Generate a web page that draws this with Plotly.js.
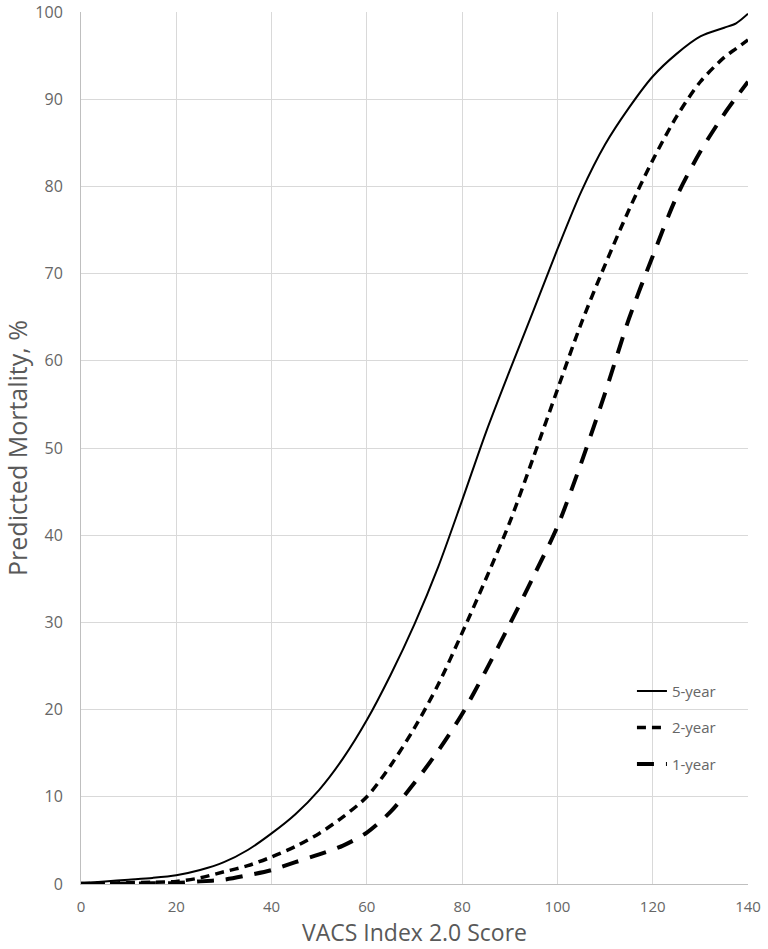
<!DOCTYPE html>
<html>
<head>
<meta charset="utf-8">
<script src="https://cdn.plot.ly/plotly-3.0.1.min.js"></script>
<style>
  body { margin: 0; background: #fff; }
  #chart { width: 768px; height: 949px; }
</style>
</head>
<body>
<div id="chart"></div>
<script>
// VACS Index 2.0 score (x) and predicted mortality in % (y)
const score = [0, 5, 10, 15, 20, 25, 30, 35, 40, 45, 50, 55, 60, 65, 70, 75, 80, 85, 90, 95, 100, 105, 110, 115, 120, 125, 130, 135, 137.5, 140];

const fiveYear = [0.1, 0.3, 0.5, 0.7, 1.0, 1.6, 2.5, 3.9, 5.8, 8.0, 10.8, 14.4, 18.8, 24.0, 29.8, 36.4, 44.0, 51.8, 58.9, 65.8, 72.8, 79.4, 84.8, 89.0, 92.6, 95.2, 97.2, 98.2, 98.7, 99.8];
const twoYear = [0.05, 0.1, 0.15, 0.2, 0.3, 0.7, 1.4, 2.1, 3.1, 4.3, 5.8, 7.7, 10.0, 13.6, 17.9, 22.9, 28.8, 35.0, 41.5, 49.0, 56.7, 64.3, 71.0, 77.3, 83.0, 88.0, 92.0, 94.8, 95.8, 96.8];
const oneYear = [0.02, 0.03, 0.05, 0.08, 0.1, 0.3, 0.5, 1.0, 1.6, 2.5, 3.4, 4.4, 5.9, 8.3, 11.6, 15.3, 19.5, 24.5, 29.8, 35.3, 41.0, 48.3, 56.3, 64.8, 72.0, 78.8, 84.0, 88.3, 90.2, 92.0];

const seriesNames = ['5-year', '2-year', '1-year'];

// greys used by the axis texts
const titleGrey = '#595959';
const tickGrey = '#666666';

// one trace per horizon, each in its own legend group so the legend rows get spaced out
const makeTrace = (name, values, dash, width) => ({
  x: score,
  y: values,
  name: name,
  legendgroup: name,
  type: 'scatter',
  mode: 'lines',
  line: { color: '#000', width: width, dash: dash, shape: 'spline', smoothing: 0.8 },
  hoverinfo: 'none'
});

const data = [
  makeTrace(seriesNames[0], fiveYear, 'solid', 2),
  makeTrace(seriesNames[1], twoYear, '9px,6px', 3.5),
  makeTrace(seriesNames[2], oneYear, '17px,12px', 4)
];

const layout = {
  width: 768,
  height: 949,
  margin: { l: 81, r: 20, t: 12, b: 65 },
  paper_bgcolor: '#fff',
  plot_bgcolor: '#fff',
  font: { family: '"Open Sans", sans-serif', color: titleGrey },
  showlegend: true,
  legend: {
    x: 0.826,
    y: 0.24,
    xanchor: 'left',
    yanchor: 'top',
    bgcolor: 'rgba(0,0,0,0)',
    tracegroupgap: 14,
    font: { size: 15, color: tickGrey }
  },
  xaxis: {
    range: [0, 140],
    dtick: 20,
    tick0: 0,
    showgrid: true,
    gridcolor: '#d9d9d9',
    zeroline: false,
    showline: true,
    linecolor: '#bfbfbf',
    ticks: '',
    ticklabelstandoff: 9,
    tickfont: { size: 15, color: tickGrey },
    title: { text: 'VACS Index 2.0 Score', font: { size: 23, color: titleGrey }, standoff: 4 }
  },
  yaxis: {
    range: [0, 100],
    dtick: 10,
    tick0: 0,
    showgrid: true,
    gridcolor: '#d9d9d9',
    zeroline: false,
    showline: true,
    linecolor: '#bfbfbf',
    ticks: '',
    ticklabelstandoff: 14,
    tickfont: { size: 16, color: tickGrey },
    title: { text: 'Predicted Mortality, %', font: { size: 25, color: titleGrey }, standoff: 4 }
  }
};

Plotly.newPlot('chart', data, layout, { displayModeBar: false, staticPlot: true });
</script>
</body>
</html>
